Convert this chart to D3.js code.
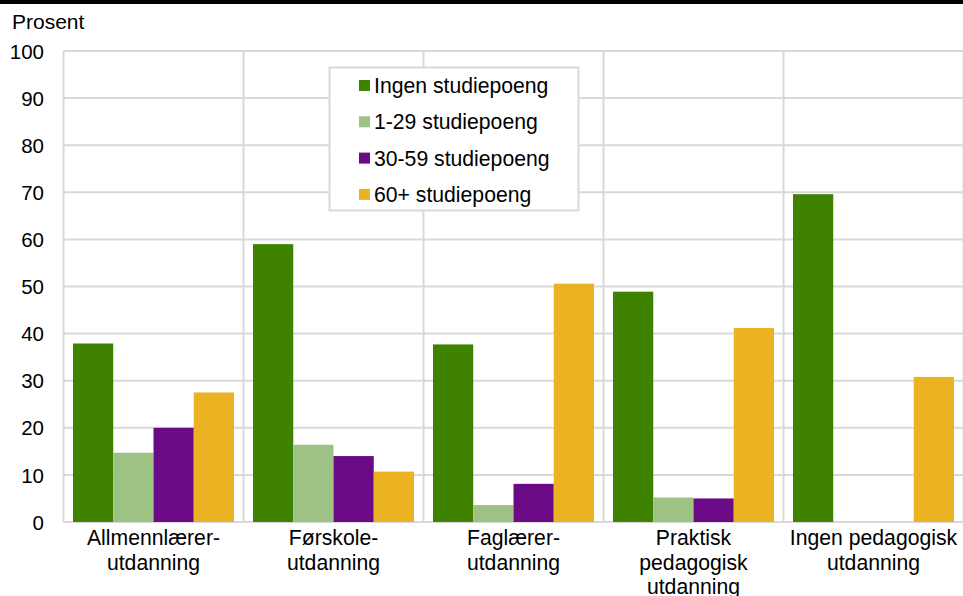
<!DOCTYPE html>
<html>
<head>
<meta charset="utf-8">
<script src="https://cdn.jsdelivr.net/npm/d3@7"></script>
<style>
body { margin: 0; background: #fff; }
svg { display: block; font-family: "Liberation Sans", Arial, sans-serif; }
</style>
</head>
<body>
<svg id="chart" width="963" height="596"></svg>
<script>
const categories = [
  ["Allmennlærer-", "utdanning"],
  ["Førskole-", "utdanning"],
  ["Faglærer-", "utdanning"],
  ["Praktisk", "pedagogisk", "utdanning"],
  ["Ingen pedagogisk", "utdanning"]
];
const seriesNames = ["Ingen studiepoeng", "1-29 studiepoeng", "30-59 studiepoeng", "60+ studiepoeng"];
const ingen = [37.9, 59.0, 37.7, 48.9, 69.6];
const s1_29 = [14.7, 16.4, 3.6, 5.2, 0];
const s30_59 = [20.0, 14.0, 8.1, 5.0, 0];
const s60 = [27.5, 10.7, 50.6, 41.2, 30.8];
const yTicks = [0, 10, 20, 30, 40, 50, 60, 70, 80, 90, 100];
const colors = ["#3f8200", "#9cc383", "#6a0a86", "#ebb321"];

const values = [ingen, s1_29, s30_59, s60];
const svg = d3.select("#chart");
const m = { left: 63.5, right: 963.5, top: 51, bottom: 522 };

const x0 = d3.scaleBand().domain(d3.range(categories.length)).range([m.left, m.right]).paddingInner(0).paddingOuter(0);
const x1 = d3.scaleBand().domain(d3.range(seriesNames.length)).range([9.5, x0.bandwidth() - 9.5]).padding(0);
const y = d3.scaleLinear().domain([0, 100]).range([m.bottom, m.top]);

// top black rule
svg.append("rect").attr("x", 0).attr("y", 0).attr("width", 963).attr("height", 4).attr("fill", "#000");

// horizontal gridlines
svg.append("g").selectAll("line").data(yTicks).join("line")
  .attr("x1", m.left).attr("x2", m.right)
  .attr("y1", d => y(d)).attr("y2", d => y(d))
  .attr("stroke", "#d9d9d9").attr("stroke-width", 2);

// vertical gridlines at category boundaries
const bounds = d3.range(categories.length + 1).map(i => i < categories.length ? x0(i) : m.right);
svg.append("g").selectAll("line").data(bounds).join("line")
  .attr("x1", d => d).attr("x2", d => d)
  .attr("y1", m.top).attr("y2", m.bottom)
  .attr("stroke", "#d9d9d9").attr("stroke-width", 2);

// bars
const groups = svg.append("g").selectAll("g").data(categories).join("g")
  .attr("transform", (d, i) => `translate(${x0(i)},0)`);
groups.selectAll("rect").data((d, i) => values.map((s, j) => ({ j, v: s[i] }))).join("rect")
  .attr("x", d => x1(d.j))
  .attr("width", x1.bandwidth())
  .attr("y", d => y(d.v))
  .attr("height", d => y(0) - y(d.v))
  .attr("fill", d => colors[d.j]);

// y axis labels
const yAxis = d3.axisLeft(y).tickValues(yTicks).tickSize(0).tickPadding(0);
const ya = svg.append("g").attr("transform", `translate(44,0)`).call(yAxis);
ya.select(".domain").remove();
ya.selectAll("text").attr("font-size", 20.5).attr("fill", "#000").attr("font-family", "Liberation Sans, Arial, sans-serif").attr("dy", "0.35em");

svg.append("text").attr("x", 12).attr("y", 29).attr("font-size", 21).text("Prosent");

// x labels
const xl = svg.append("g").selectAll("text").data(categories).join("text")
  .attr("x", (d, i) => x0(i) + x0.bandwidth() / 2)
  .attr("y", 545)
  .attr("text-anchor", "middle")
  .attr("font-size", 21.2);
xl.selectAll("tspan").data(d => d).join("tspan")
  .attr("x", function () { return this.parentNode.getAttribute("x"); })
  .attr("dy", (d, i) => i === 0 ? 0 : 24.5)
  .text(d => d);

// legend
const lg = svg.append("g");
lg.append("rect").attr("x", 329.5).attr("y", 67.5).attr("width", 249).attr("height", 143)
  .attr("fill", "#fff").attr("stroke", "#d9d9d9").attr("stroke-width", 2);
const items = lg.selectAll("g.it").data(seriesNames).join("g").attr("class", "it")
  .attr("transform", (d, i) => `translate(359, ${85.5 + i * 36.3})`);
items.append("rect").attr("x", 0).attr("y", -5.5).attr("width", 11).attr("height", 11).attr("fill", (d, i) => colors[i]);
items.append("text").attr("x", 15).attr("y", 0).attr("dy", "0.35em").attr("font-size", 21.2).text(d => d);
</script>
</body>
</html>
